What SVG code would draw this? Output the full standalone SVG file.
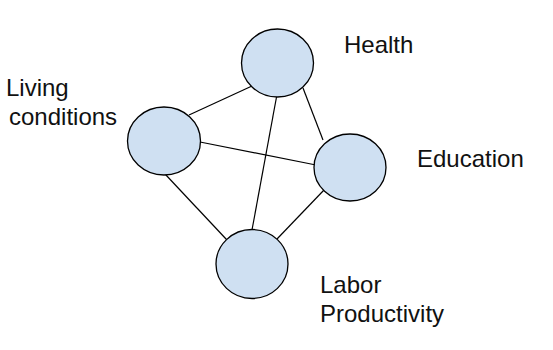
<svg xmlns="http://www.w3.org/2000/svg" width="553" height="350" viewBox="0 0 553 350">
  <style>
    .edge { stroke: #000; stroke-width: 1.2; fill: none; }
    .node { fill: #cfe0f2; stroke: #000; stroke-width: 1.3; }
    .label { font-family: "Liberation Sans", Arial, sans-serif; font-size: 24px; fill: #111; }
  </style>
  <rect width="553" height="350" fill="#fff"/>
  <g id="connectors">
    <line class="edge" x1="189" y1="115" x2="252" y2="86"/>
    <line class="edge" x1="200" y1="142" x2="316" y2="165"/>
    <line class="edge" x1="276.5" y1="97" x2="252" y2="230"/>
    <line class="edge" x1="303" y1="88" x2="323" y2="140"/>
    <line class="edge" x1="165" y1="174" x2="227" y2="240"/>
    <line class="edge" x1="277" y1="239" x2="324" y2="190"/>
  </g>
  <g id="health">
    <ellipse class="node" cx="277.5" cy="63" rx="36" ry="34"/>
    <text class="label" x="344" y="53">Health</text>
  </g>
  <g id="living-conditions">
    <ellipse class="node" cx="164" cy="141" rx="36.5" ry="34"/>
    <text class="label" x="6" y="96">Living</text>
    <text class="label" x="9" y="125">conditions</text>
  </g>
  <g id="education">
    <ellipse class="node" cx="350" cy="167.5" rx="36" ry="33.5"/>
    <text class="label" x="417" y="167">Education</text>
  </g>
  <g id="labor-productivity">
    <ellipse class="node" cx="252" cy="264" rx="36" ry="34.5"/>
    <text class="label" x="320" y="293">Labor</text>
    <text class="label" x="320" y="321.5">Productivity</text>
  </g>
</svg>
